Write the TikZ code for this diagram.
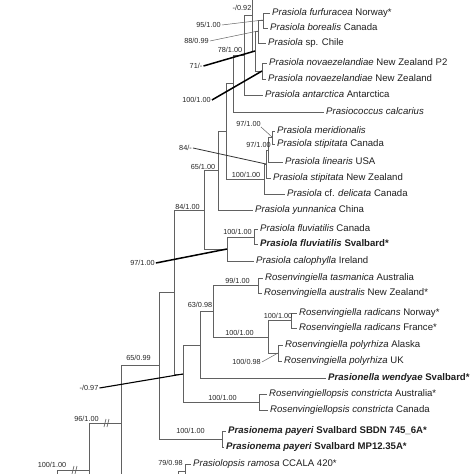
\documentclass[tikz,border=0pt]{standalone}
\usepackage{fontspec}
\setmainfont{Liberation Sans}
\usetikzlibrary{calc}

\begin{document}
\begin{tikzpicture}[x=1pt,y=-1pt,
    tree/.style={draw=black!62, line width=0.9pt},
    lead/.style={draw=black, line width=1.5pt},
    thinlead/.style={draw=black!60, line width=0.5pt},
    leaf/.style={anchor=mid west, inner sep=0pt, font=\fontsize{9.6}{11}\selectfont, text=black!88},
    sup/.style={inner sep=0pt, font=\fontsize{7.3}{8}\selectfont, text=black!85}]
    \clip (0,0) rectangle (474,474);
    \fill[white] (0,0) rectangle (474,474);

    % foglie
    \node[leaf] (furf) at (272,13) {\textit{Prasiola furfuracea} Norway*};
    \node[leaf] (bore) at (270,28) {\textit{Prasiola borealis} Canada};
    \node[leaf] (chil) at (268,43) {\textit{Prasiola} sp. Chile};
    \node[leaf] (nzp2) at (269,63) {\textit{Prasiola novaezelandiae} New Zealand P2};
    \node[leaf] (nzl) at (268,79) {\textit{Prasiola novaezelandiae} New Zealand};
    \node[leaf] (anta) at (265,95) {\textit{Prasiola antarctica} Antarctica};
    \node[leaf] (calc) at (326,112) {\textit{Prasiococcus calcarius}};
    \node[leaf] (meri) at (277,131) {\textit{Prasiola meridionalis}};
    \node[leaf] (stca) at (277,144) {\textit{Prasiola stipitata} Canada};
    \node[leaf] (line) at (285,162) {\textit{Prasiola linearis} USA};
    \node[leaf] (stnz) at (273,178) {\textit{Prasiola stipitata} New Zealand};
    \node[leaf] (deli) at (287,194) {\textit{Prasiola} cf. \textit{delicata} Canada};
    \node[leaf] (yunn) at (255,210) {\textit{Prasiola yunnanica} China};
    \node[leaf] (flca) at (260,229) {\textit{Prasiola fluviatilis} Canada};
    \node[leaf] (flsv) at (260,244) {\textbf{\textit{Prasiola fluviatilis} Svalbard*}};
    \node[leaf] (calo) at (256,261) {\textit{Prasiola calophylla} Ireland};
    \node[leaf] (tasm) at (265,278) {\textit{Rosenvingiella tasmanica} Australia};
    \node[leaf] (aust) at (264,293) {\textit{Rosenvingiella australis} New Zealand*};
    \node[leaf] (rano) at (299,313) {\textit{Rosenvingiella radicans} Norway*};
    \node[leaf] (rafr) at (299,328) {\textit{Rosenvingiella radicans} France*};
    \node[leaf] (poal) at (285,345) {\textit{Rosenvingiella polyrhiza} Alaska};
    \node[leaf] (pouk) at (284,361) {\textit{Rosenvingiella polyrhiza} UK};
    \node[leaf] (wend) at (328,378) {\textbf{\textit{Prasionella wendyae} Svalbard*}};
    \node[leaf] (coau) at (269,394) {\textit{Rosenvingiellopsis constricta} Australia*};
    \node[leaf] (coca) at (270,410) {\textit{Rosenvingiellopsis constricta} Canada};
    \node[leaf] (pay1) at (228,431) {\textbf{\textit{Prasionema payeri} Svalbard SBDN 745\_6A*}};
    \node[leaf] (pay2) at (226,447) {\textbf{\textit{Prasionema payeri} Svalbard MP12.35A*}};
    \node[leaf] (ramo) at (193,464) {\textit{Prasiolopsis ramosa} CCALA 420*};

    % nodi interni
    \coordinate (nZ) at (263,20);
    \coordinate (nY) at (258,31);
    \coordinate (nW) at (262,71);
    \coordinate (nX) at (255,51);
    \coordinate (nN) at (252,15);
    \coordinate (n78) at (244,55);
    \coordinate (n233) at (233,83);
    \coordinate (nM) at (272,137);
    \coordinate (nL) at (268,150);
    \coordinate (nK) at (266,164);
    \coordinate (nJ) at (264,179);
    \coordinate (n226) at (226,131);
    \coordinate (n218) at (218,170);
    \coordinate (nFF) at (254,237);
    \coordinate (nF) at (227,249);
    \coordinate (n204) at (204,210);
    \coordinate (nU) at (258,285);
    \coordinate (nRad) at (291,320);
    \coordinate (nPoly) at (278,353);
    \coordinate (nV) at (268,337);
    \coordinate (nT) at (213,311);
    \coordinate (nS) at (200,345);
    \coordinate (nC) at (259,402);
    \coordinate (nR) at (183,374);
    \coordinate (n174) at (174,292);
    \coordinate (nP) at (222,439);
    \coordinate (n159) at (159,365);
    \coordinate (n121) at (121,423);
    \coordinate (n89) at (89,470);
    \coordinate (n79) at (185,471);

    % rami, clade superiore
    \draw[tree] (nZ) |- ([xshift=-2pt]furf.mid west);
    \draw[tree] (nZ) |- ([xshift=-2pt]bore.mid west);
    \draw[tree] (nY) |- (nZ);
    \draw[tree] (nY) |- ([xshift=-2pt]chil.mid west);
    \draw[tree] (nW) |- ([xshift=-2pt]nzp2.mid west);
    \draw[tree] (nW) |- ([xshift=-2pt]nzl.mid west);
    \draw[tree] (nX) |- (nY);
    \draw[tree] (nX) |- (nW);
    \draw[tree] (nN) |- (nX);
    \draw[tree] (nN) -- (252,-10);
    \draw[tree] (n78) |- (nN);
    \draw[tree] (n78) |- ([xshift=-2pt]anta.mid west);
    \draw[tree] (n233) |- (n78);
    \draw[tree] (n233) |- ([xshift=-2pt]calc.mid west);
    \draw[tree] (nM) |- ([xshift=-2pt]meri.mid west);
    \draw[tree] (nM) |- ([xshift=-2pt]stca.mid west);
    \draw[tree] (nL) |- (nM);
    \draw[tree] (nL) |- ([xshift=-2pt]line.mid west);
    \draw[tree] (nK) |- (nL);
    \draw[tree] (nK) |- ([xshift=-2pt]stnz.mid west);
    \draw[tree] (nJ) |- (nK);
    \draw[tree] (nJ) |- ([xshift=-2pt]deli.mid west);
    \draw[tree] (n226) |- (n233);
    \draw[tree] (n226) |- (nJ);
    \draw[tree] (n218) |- (n226);
    \draw[tree] (n218) |- ([xshift=-2pt]yunn.mid west);
    \draw[tree] (nFF) |- ([xshift=-2pt]flca.mid west);
    \draw[tree] (nFF) |- ([xshift=-2pt]flsv.mid west);
    \draw[tree] (nF) |- (nFF);
    \draw[tree] (nF) |- ([xshift=-2pt]calo.mid west);
    \draw[tree] (n204) |- (n218);
    \draw[tree] (n204) |- (nF);

    % rami, Rosenvingiella
    \draw[tree] (nU) |- ([xshift=-2pt]tasm.mid west);
    \draw[tree] (nU) |- ([xshift=-2pt]aust.mid west);
    \draw[tree] (nRad) |- ([xshift=-2pt]rano.mid west);
    \draw[tree] (nRad) |- ([xshift=-2pt]rafr.mid west);
    \draw[tree] (nPoly) |- ([xshift=-2pt]poal.mid west);
    \draw[tree] (nPoly) |- ([xshift=-2pt]pouk.mid west);
    \draw[tree] (nV) |- (nRad);
    \draw[tree] (nV) |- (nPoly);
    \draw[tree] (nT) |- (nU);
    \draw[tree] (nT) |- (nV);
    \draw[tree] (nS) |- (nT);
    \draw[tree] (nS) |- ([xshift=-2pt]wend.mid west);
    \draw[tree] (nC) |- ([xshift=-2pt]coau.mid west);
    \draw[tree] (nC) |- ([xshift=-2pt]coca.mid west);
    \draw[tree] (nR) |- (nS);
    \draw[tree] (nR) |- (nC);
    \draw[tree] (n174) |- (n204);
    \draw[tree] (n174) |- (nR);

    % rami, base
    \draw[tree] (nP) |- ([xshift=-2pt]pay1.mid west);
    \draw[tree] (nP) |- ([xshift=-2pt]pay2.mid west);
    \draw[tree] (n159) |- (n174);
    \draw[tree] (n159) |- (nP);
    \draw[tree] (n121) |- (n159);
    \draw[tree] (n121) -- (121,490);
    \draw[tree] (n89) |- (n121);
    \draw[tree] (n89) -- (89,490);
    \draw[tree] (57,490) |- (n89);
    \draw[tree] (n79) |- ([xshift=-2pt]ramo.mid west);
    \draw[tree] (n79) -- (185,490);
    \draw[tree] (178,490) |- (n79);

    % interruzioni
    \draw[tree,line width=0.7pt] (104,427) -- (106,419);
    \draw[tree,line width=0.7pt] (107,427) -- (109,419);
    \draw[tree,line width=0.7pt] (72,474) -- (74,466);
    \draw[tree,line width=0.7pt] (75,474) -- (77,466);

    % supporti
    \node[sup] (l092) at (242,8) {-/0.92};
    \node[sup] (l95) at (208.5,25) {95/1.00};
    \node[sup] (l88) at (196.5,41) {88/0.99};
    \node[sup] (l78) at (230,50) {78/1.00};
    \node[sup] (l71) at (196,66) {71/-};
    \node[sup] (l100a) at (196.5,100) {100/1.00};
    \node[sup] (l97a) at (248.5,124) {97/1.00};
    \node[sup] (l97b) at (258.5,145) {97/1.00};
    \node[sup] (l84) at (185.5,148) {84/-};
    \node[sup] (l65a) at (203,167) {65/1.00};
    \node[sup] (l100b) at (246,175) {100/1.00};
    \node[sup] (l84b) at (187.5,207) {84/1.00};
    \node[sup] (l100c) at (237.5,232) {100/1.00};
    \node[sup] (l97c) at (142.5,263) {97/1.00};
    \node[sup] (l99) at (237.5,281) {99/1.00};
    \node[sup] (l63) at (200,305) {63/0.98};
    \node[sup] (l100d) at (278,316) {100/1.00};
    \node[sup] (l100e) at (239.5,333) {100/1.00};
    \node[sup] (l65b) at (138.5,358) {65/0.99};
    \node[sup] (l100f) at (246.5,362) {100/0.98};
    \node[sup] (l097) at (89,388) {-/0.97};
    \node[sup] (l100g) at (222.5,398) {100/1.00};
    \node[sup] (l96) at (86.5,419) {96/1.00};
    \node[sup] (l100h) at (190.5,431) {100/1.00};
    \node[sup] (l100i) at (52,465) {100/1.00};
    \node[sup] (l79) at (170.5,463) {79/0.98};

    % linee di richiamo
    \draw[thinlead] ([xshift=1pt]l95.east) -- (nZ);
    \draw[thinlead] ([xshift=1pt]l88.east) -- (nY);
    \draw[lead] ([xshift=1pt]l71.east) -- (nX);
    \draw[lead] ([xshift=1pt]l100a.east) -- (nW);
    \draw[thinlead] (l97a.south east) -- (nM);
    \draw[thinlead,line width=0.8pt,draw=black!80] ([xshift=1pt]l84.east) -- (nK);
    \draw[lead] ([xshift=1pt]l97c.east) -- (nF);
    \draw[thinlead] ([xshift=1pt]l100f.east) -- (nPoly);
    \draw[lead,line width=1.1pt] ([xshift=1pt]l097.east) -- (nR);
\end{tikzpicture}
\end{document}
